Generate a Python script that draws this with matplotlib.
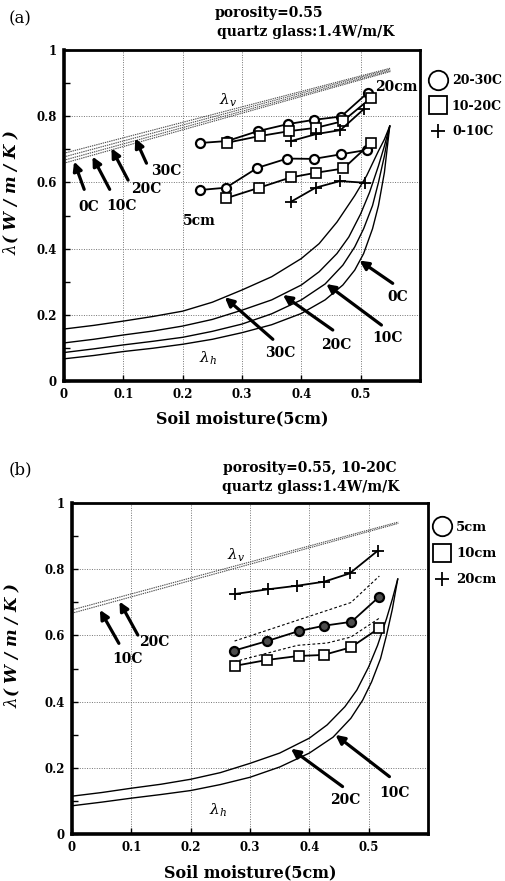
import matplotlib
matplotlib.use('Agg')
import matplotlib.pyplot as plt
from matplotlib.lines import Line2D

plt.rcParams['font.family'] = ['DejaVu Serif']
plt.rcParams['mathtext.fontset'] = 'dejavuserif'

# ---------------- panel (a) data ----------------
circ20_x = [0.229, 0.275, 0.327, 0.377, 0.421, 0.467, 0.512]
circ20_y = [0.719, 0.725, 0.755, 0.776, 0.789, 0.799, 0.871]
sq20_x = [0.275, 0.330, 0.380, 0.425, 0.470, 0.518]
sq20_y = [0.720, 0.740, 0.755, 0.765, 0.785, 0.856]
plus20_x = [0.383, 0.425, 0.466, 0.505]
plus20_y = [0.725, 0.746, 0.758, 0.821]

circ5_x = [0.229, 0.273, 0.326, 0.376, 0.421, 0.467, 0.510]
circ5_y = [0.577, 0.584, 0.644, 0.672, 0.671, 0.685, 0.698]
sq5_x = [0.273, 0.329, 0.382, 0.424, 0.471, 0.518]
sq5_y = [0.552, 0.584, 0.615, 0.629, 0.642, 0.720]
plus5_x = [0.383, 0.424, 0.465, 0.507]
plus5_y = [0.542, 0.584, 0.604, 0.599]

# lambda_v (upper bound) lines
lv_x = [0.0, 0.55]
lv0_y = [0.658, 0.935]
lv10_y = [0.667, 0.938]
lv20_y = [0.677, 0.942]
lv30_y = [0.688, 0.945]

# lambda_h (lower bound) curves
lh30_x = [0, 0.05, 0.1, 0.15, 0.2, 0.25, 0.3, 0.35, 0.4, 0.43, 0.46, 0.49, 0.51, 0.53, 0.54, 0.549]
lh30_y = [0.157, 0.168, 0.181, 0.195, 0.211, 0.238, 0.275, 0.315, 0.37, 0.415, 0.48, 0.56, 0.62, 0.695, 0.73, 0.77]
lh20_x = [0, 0.05, 0.1, 0.15, 0.2, 0.25, 0.3, 0.35, 0.4, 0.43, 0.46, 0.48, 0.5, 0.515, 0.53, 0.54, 0.549]
lh20_y = [0.115, 0.126, 0.139, 0.151, 0.166, 0.186, 0.214, 0.245, 0.29, 0.33, 0.385, 0.435, 0.505, 0.57, 0.65, 0.71, 0.77]
lh10_x = [0, 0.05, 0.1, 0.15, 0.2, 0.25, 0.3, 0.35, 0.4, 0.44, 0.47, 0.49, 0.505, 0.52, 0.53, 0.54, 0.549]
lh10_y = [0.086, 0.097, 0.109, 0.12, 0.132, 0.15, 0.172, 0.203, 0.245, 0.293, 0.35, 0.405, 0.46, 0.53, 0.60, 0.68, 0.77]
lh0_x = [0, 0.05, 0.1, 0.15, 0.2, 0.25, 0.3, 0.35, 0.4, 0.44, 0.47, 0.49, 0.505, 0.52, 0.53, 0.54, 0.549]
lh0_y = [0.067, 0.077, 0.089, 0.099, 0.111, 0.126, 0.146, 0.17, 0.204, 0.245, 0.29, 0.335, 0.385, 0.46, 0.53, 0.63, 0.77]

# ---------------- panel (b) data ----------------
b_circ_x = [0.273, 0.329, 0.382, 0.424, 0.471, 0.518]
b_circ_y = [0.554, 0.583, 0.613, 0.629, 0.641, 0.717]
b_sq_x = [0.274, 0.329, 0.382, 0.424, 0.470, 0.517]
b_sq_y = [0.508, 0.526, 0.538, 0.541, 0.564, 0.621]
b_plus_x = [0.275, 0.330, 0.380, 0.425, 0.468, 0.515]
b_plus_y = [0.725, 0.739, 0.750, 0.762, 0.787, 0.855]
b_dash_up_x = [0.274, 0.470, 0.518]
b_dash_up_y = [0.583, 0.699, 0.779]
b_dash_lo_x = [0.274, 0.380, 0.430, 0.470, 0.518]
b_dash_lo_y = [0.521, 0.570, 0.577, 0.595, 0.652]

x_ticks = [0, 0.1, 0.2, 0.3, 0.4, 0.5]
x_ticklabels = ['0', '0.1', '0.2', '0.3', '0.4', '0.5']
y_ticks = [0, 0.2, 0.4, 0.6, 0.8, 1.0]
y_ticklabels = ['0', '0.2', '0.4', '0.6', '0.8', '1']

# arrows: (label, head, tail, text position)
a_lv_arrows = [('0C', (0.017, 0.663), (0.034, 0.579), (0.041, 0.527)),
               ('10C', (0.048, 0.678), (0.077, 0.579), (0.097, 0.529)),
               ('20C', (0.080, 0.703), (0.108, 0.607), (0.139, 0.579)),
               ('30C', (0.120, 0.733), (0.139, 0.658), (0.173, 0.635))]
a_lh_arrows = [('30C', (0.271, 0.253), (0.352, 0.126), (0.364, 0.084)),
               ('20C', (0.369, 0.260), (0.453, 0.154), (0.459, 0.109)),
               ('10C', (0.442, 0.293), (0.535, 0.169), (0.546, 0.129)),
               ('0C', (0.498, 0.364), (0.554, 0.295), (0.563, 0.255))]
b_lv_arrows = [('10C', (0.047, 0.677), (0.079, 0.576), (0.094, 0.528)),
               ('20C', (0.080, 0.702), (0.111, 0.601), (0.139, 0.581))]
b_lh_arrows = [('20C', (0.369, 0.258), (0.456, 0.144), (0.461, 0.103)),
               ('10C', (0.444, 0.300), (0.535, 0.174), (0.543, 0.126))]

W, H = 506, 881
fig = plt.figure(figsize=(W / 100, H / 100), dpi=100)
axA = fig.add_axes([64 / W, 1 - 381 / H, 356 / W, 331 / H])
axB = fig.add_axes([72 / W, 1 - 834.3 / H, 356 / W, 331.5 / H])


def style_axes(ax, lab_x):
    ax.set_xlim(0, 0.6)
    ax.set_ylim(0, 1)
    ax.set_xticks(x_ticks)
    ax.set_xticklabels(x_ticklabels, fontsize=8.5, fontweight='bold')
    ax.set_yticks(y_ticks)
    ax.set_yticklabels(y_ticklabels, fontsize=8.5, fontweight='bold')
    ax.set_yticks([0.1, 0.3, 0.5, 0.7, 0.9], minor=True)
    ax.tick_params(which='both', direction='in', length=4, width=1)
    ax.tick_params(which='major', pad=5)
    ax.grid(True, which='major', color='0.45', linestyle=(0, (1, 1.5)), linewidth=0.7)
    for s in ['left', 'bottom']:
        ax.spines[s].set_linewidth(2.6)
    for s in ['top', 'right']:
        ax.spines[s].set_linewidth(2.0)
    ax.set_xlabel('Soil moisture(5cm)', fontsize=11.5, fontweight='bold', labelpad=7)
    ax.set_ylabel(r'$\lambda$( W / m / K )', fontsize=12, fontweight='bold',
                  fontstyle='italic')
    ax.yaxis.set_label_coords(lab_x, 0.57)


def arrows(ax, specs):
    for lab, head, tail, tp in specs:
        ax.annotate('', xy=head, xytext=tail,
                    arrowprops=dict(arrowstyle='-|>', color='black', lw=2.3,
                                    mutation_scale=13, shrinkA=0, shrinkB=0))
        ax.text(tp[0], tp[1], lab, fontsize=10, fontweight='bold',
                ha='center', va='center')


# ---------------- panel (a) ----------------
ax = axA
style_axes(ax, -0.122)
for yy in [lv0_y, lv10_y, lv20_y, lv30_y]:
    ax.plot(lv_x, yy, color='0.3', lw=0.8, ls=(0, (1.2, 0.8)))
for xx, yy in [(lh30_x, lh30_y), (lh20_x, lh20_y), (lh10_x, lh10_y), (lh0_x, lh0_y)]:
    ax.plot(xx, yy, color='black', lw=1.0)

mk = dict(color='black', lw=1.3)
ax.plot(circ20_x, circ20_y, marker='o', ms=6.5, mfc='white', mec='black', mew=1.6, **mk)
ax.plot(sq20_x, sq20_y, marker='s', ms=7, mfc='white', mec='black', mew=1.2, **mk)
ax.plot(plus20_x, plus20_y, marker='+', ms=8, mew=1.3, **mk)
ax.plot(circ5_x, circ5_y, marker='o', ms=6.5, mfc='white', mec='black', mew=1.6, **mk)
ax.plot(sq5_x, sq5_y, marker='s', ms=7, mfc='white', mec='black', mew=1.2, **mk)
ax.plot(plus5_x, plus5_y, marker='+', ms=8, mew=1.3, **mk)

arrows(ax, a_lv_arrows)
arrows(ax, a_lh_arrows)
ax.text(0.277, 0.849, r'$\lambda_{v}$', fontsize=11, ha='center', va='center')
ax.text(0.243, 0.069, r'$\lambda_{h}$', fontsize=11, ha='center', va='center')
ax.text(0.525, 0.889, '20cm', fontsize=10, fontweight='bold', ha='left', va='center')
ax.text(0.200, 0.482, '5cm', fontsize=10, fontweight='bold', ha='left', va='center')

hA = [Line2D([], [], ls='none', marker='o', ms=14, mfc='white', mec='black', mew=1.3),
      Line2D([], [], ls='none', marker='s', ms=13, mfc='white', mec='black', mew=1.3),
      Line2D([], [], ls='none', marker='+', ms=10, mec='black', mew=1.3)]
ax.legend(hA, ['20-30C', '10-20C', '0-10C'], loc='upper left',
          bbox_to_anchor=(432 / W, 1 - 74 / H), bbox_transform=fig.transFigure,
          frameon=False, handlelength=1.0, handletextpad=0.6, labelspacing=1.0,
          borderpad=0, borderaxespad=0, prop=dict(family='DejaVu Serif', weight='bold', size=9))

fig.text(20 / W, 1 - 19 / H, '(a)', fontsize=12, ha='center', va='center')
fig.text(215 / W, 1 - 13 / H, 'porosity=0.55', fontsize=10, fontweight='bold',
         ha='left', va='center')
fig.text(217 / W, 1 - 32 / H, 'quartz glass:1.4W/m/K', fontsize=10, fontweight='bold',
         ha='left', va='center')

# ---------------- panel (b) ----------------
ax = axB
style_axes(ax, -0.14)
for yy in [lv10_y, lv20_y]:
    ax.plot(lv_x, yy, color='0.3', lw=0.8, ls=(0, (1.2, 0.8)))
for xx, yy in [(lh20_x, lh20_y), (lh10_x, lh10_y)]:
    ax.plot(xx, yy, color='black', lw=1.0)
ax.plot(b_dash_up_x, b_dash_up_y, color='black', lw=0.8, ls=(0, (2.5, 2)))
ax.plot(b_dash_lo_x, b_dash_lo_y, color='black', lw=0.8, ls=(0, (2.5, 2)))
ax.plot(b_plus_x, b_plus_y, marker='+', ms=8, mew=1.3, **mk)
ax.plot(b_circ_x, b_circ_y, marker='o', ms=6.5, mfc='0.3', mec='black', mew=1.6, **mk)
ax.plot(b_sq_x, b_sq_y, marker='s', ms=7, mfc='white', mec='black', mew=1.2, **mk)

arrows(ax, b_lv_arrows)
arrows(ax, b_lh_arrows)
ax.text(0.277, 0.843, r'$\lambda_{v}$', fontsize=11, ha='center', va='center')
ax.text(0.246, 0.071, r'$\lambda_{h}$', fontsize=11, ha='center', va='center')

hB = [Line2D([], [], ls='none', marker='o', ms=14, mfc='white', mec='black', mew=1.3),
      Line2D([], [], ls='none', marker='s', ms=13, mfc='white', mec='black', mew=1.3),
      Line2D([], [], ls='none', marker='+', ms=10, mec='black', mew=1.3)]
ax.legend(hB, ['5cm', '10cm', '20cm'], loc='upper left',
          bbox_to_anchor=(435 / W, 1 - 521 / H), bbox_transform=fig.transFigure,
          frameon=False, handlelength=1.0, handletextpad=0.6, labelspacing=1.0,
          borderpad=0, borderaxespad=0, prop=dict(family='DejaVu Serif', weight='bold', size=9.5))

fig.text(20 / W, 1 - 470 / H, '(b)', fontsize=12, ha='center', va='center')
fig.text(223 / W, 1 - 468 / H, 'porosity=0.55, 10-20C', fontsize=10, fontweight='bold',
         ha='left', va='center')
fig.text(222 / W, 1 - 487 / H, 'quartz glass:1.4W/m/K', fontsize=10, fontweight='bold',
         ha='left', va='center')

fig.savefig('out.png', dpi=100)
